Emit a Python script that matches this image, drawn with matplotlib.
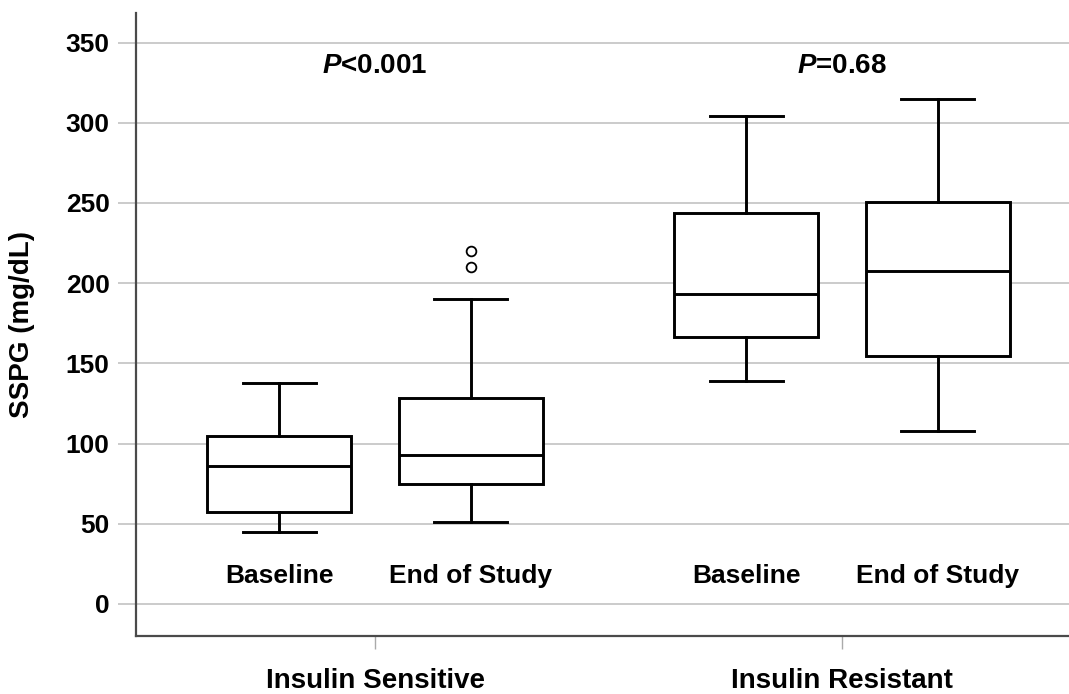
"""
Box plots of SSPG at baseline and end of study, by insulin group.
Output: out.png
"""

import matplotlib

matplotlib.use("Agg")
import matplotlib.pyplot as plt

plt.rcParams["font.family"] = ["Liberation Sans", "DejaVu Sans"]
plt.rcParams["font.weight"] = "bold"
plt.rcParams["mathtext.fontset"] = "custom"
plt.rcParams["mathtext.it"] = "Liberation Sans:italic:bold"
plt.rcParams["mathtext.rm"] = "Liberation Sans:bold"

# Data (mg/dL)
categories = ["Insulin Sensitive", "Insulin Resistant"]
phases = ["Baseline", "End of Study"]
whislo = [45, 51, 139, 108]
q1 = [57.5, 74.5, 166.5, 154.5]
med = [86, 93, 193, 207.5]
q3 = [104.5, 128.5, 244, 250.5]
whishi = [138, 190, 304, 315]
fliers = [[], [210, 220], [], []]
p_labels = ["<0.001", "=0.68"]

yticks = [0, 50, 100, 150, 200, 250, 300, 350]

GRID_COLOR = "#cbcbcb"
SPINE_COLOR = "#4a4a4a"
OFFSET = 0.205
BOX_WIDTH = 0.308
CAP_WIDTH = 0.156


def build_stats():
    stats = []
    for i in range(len(med)):
        stats.append(
            {
                "whislo": whislo[i],
                "q1": q1[i],
                "med": med[i],
                "q3": q3[i],
                "whishi": whishi[i],
                "fliers": fliers[i],
            }
        )
    return stats


def main():
    fig = plt.figure(figsize=(10.69, 6.94), dpi=100)
    ax = fig.add_axes([0.1272, 0.0836, 0.8728, 0.8981])

    positions = []
    for g in range(len(categories)):
        positions += [g - OFFSET, g + OFFSET]

    ax.bxp(
        build_stats(),
        positions=positions,
        widths=BOX_WIDTH,
        capwidths=CAP_WIDTH,
        patch_artist=True,
        showfliers=True,
        boxprops=dict(facecolor="white", edgecolor="black", linewidth=2.1),
        medianprops=dict(color="black", linewidth=2.1),
        whiskerprops=dict(color="black", linewidth=2.1),
        capprops=dict(color="black", linewidth=2.1),
        flierprops=dict(marker="o", markerfacecolor="white", markeredgecolor="black",
                        markersize=7, markeredgewidth=1.3),
        manage_ticks=False,
        zorder=3,
    )

    # phase labels under each box
    for i, pos in enumerate(positions):
        ax.text(pos, 13.3, phases[i % 2], ha="center", va="baseline",
                fontsize=19, fontweight="bold", zorder=4)

    # p-values above each group
    for g, lab in enumerate(p_labels):
        ax.text(g, 331, "$P$" + lab, ha="center", va="baseline",
                fontsize=20, fontweight="bold", zorder=4)

    ax.set_xlim(-0.512, 1.486)
    ax.set_ylim(-20, 368.6)

    ax.set_yticks(yticks)
    ax.set_yticklabels([str(t) for t in yticks], fontsize=19, fontweight="bold")
    ax.yaxis.grid(True, color=GRID_COLOR, linewidth=1.4, zorder=0)
    ax.set_axisbelow(True)
    ax.tick_params(axis="y", length=13, width=1.4, color=GRID_COLOR, pad=6)

    ax.set_xticks(range(len(categories)))
    ax.set_xticklabels(categories, fontsize=20, fontweight="bold")
    ax.tick_params(axis="x", length=9, width=1.0, color="#aaaaaa", pad=14)

    ax.set_ylabel("SSPG (mg/dL)", fontsize=20, fontweight="bold")
    ax.yaxis.set_label_coords(-0.108, 0.5)

    ax.spines["top"].set_visible(False)
    ax.spines["right"].set_visible(False)
    for side in ("left", "bottom"):
        ax.spines[side].set_color(SPINE_COLOR)
        ax.spines[side].set_linewidth(1.6)

    fig.savefig("out.png", dpi=100)
    plt.close(fig)


if __name__ == "__main__":
    main()
